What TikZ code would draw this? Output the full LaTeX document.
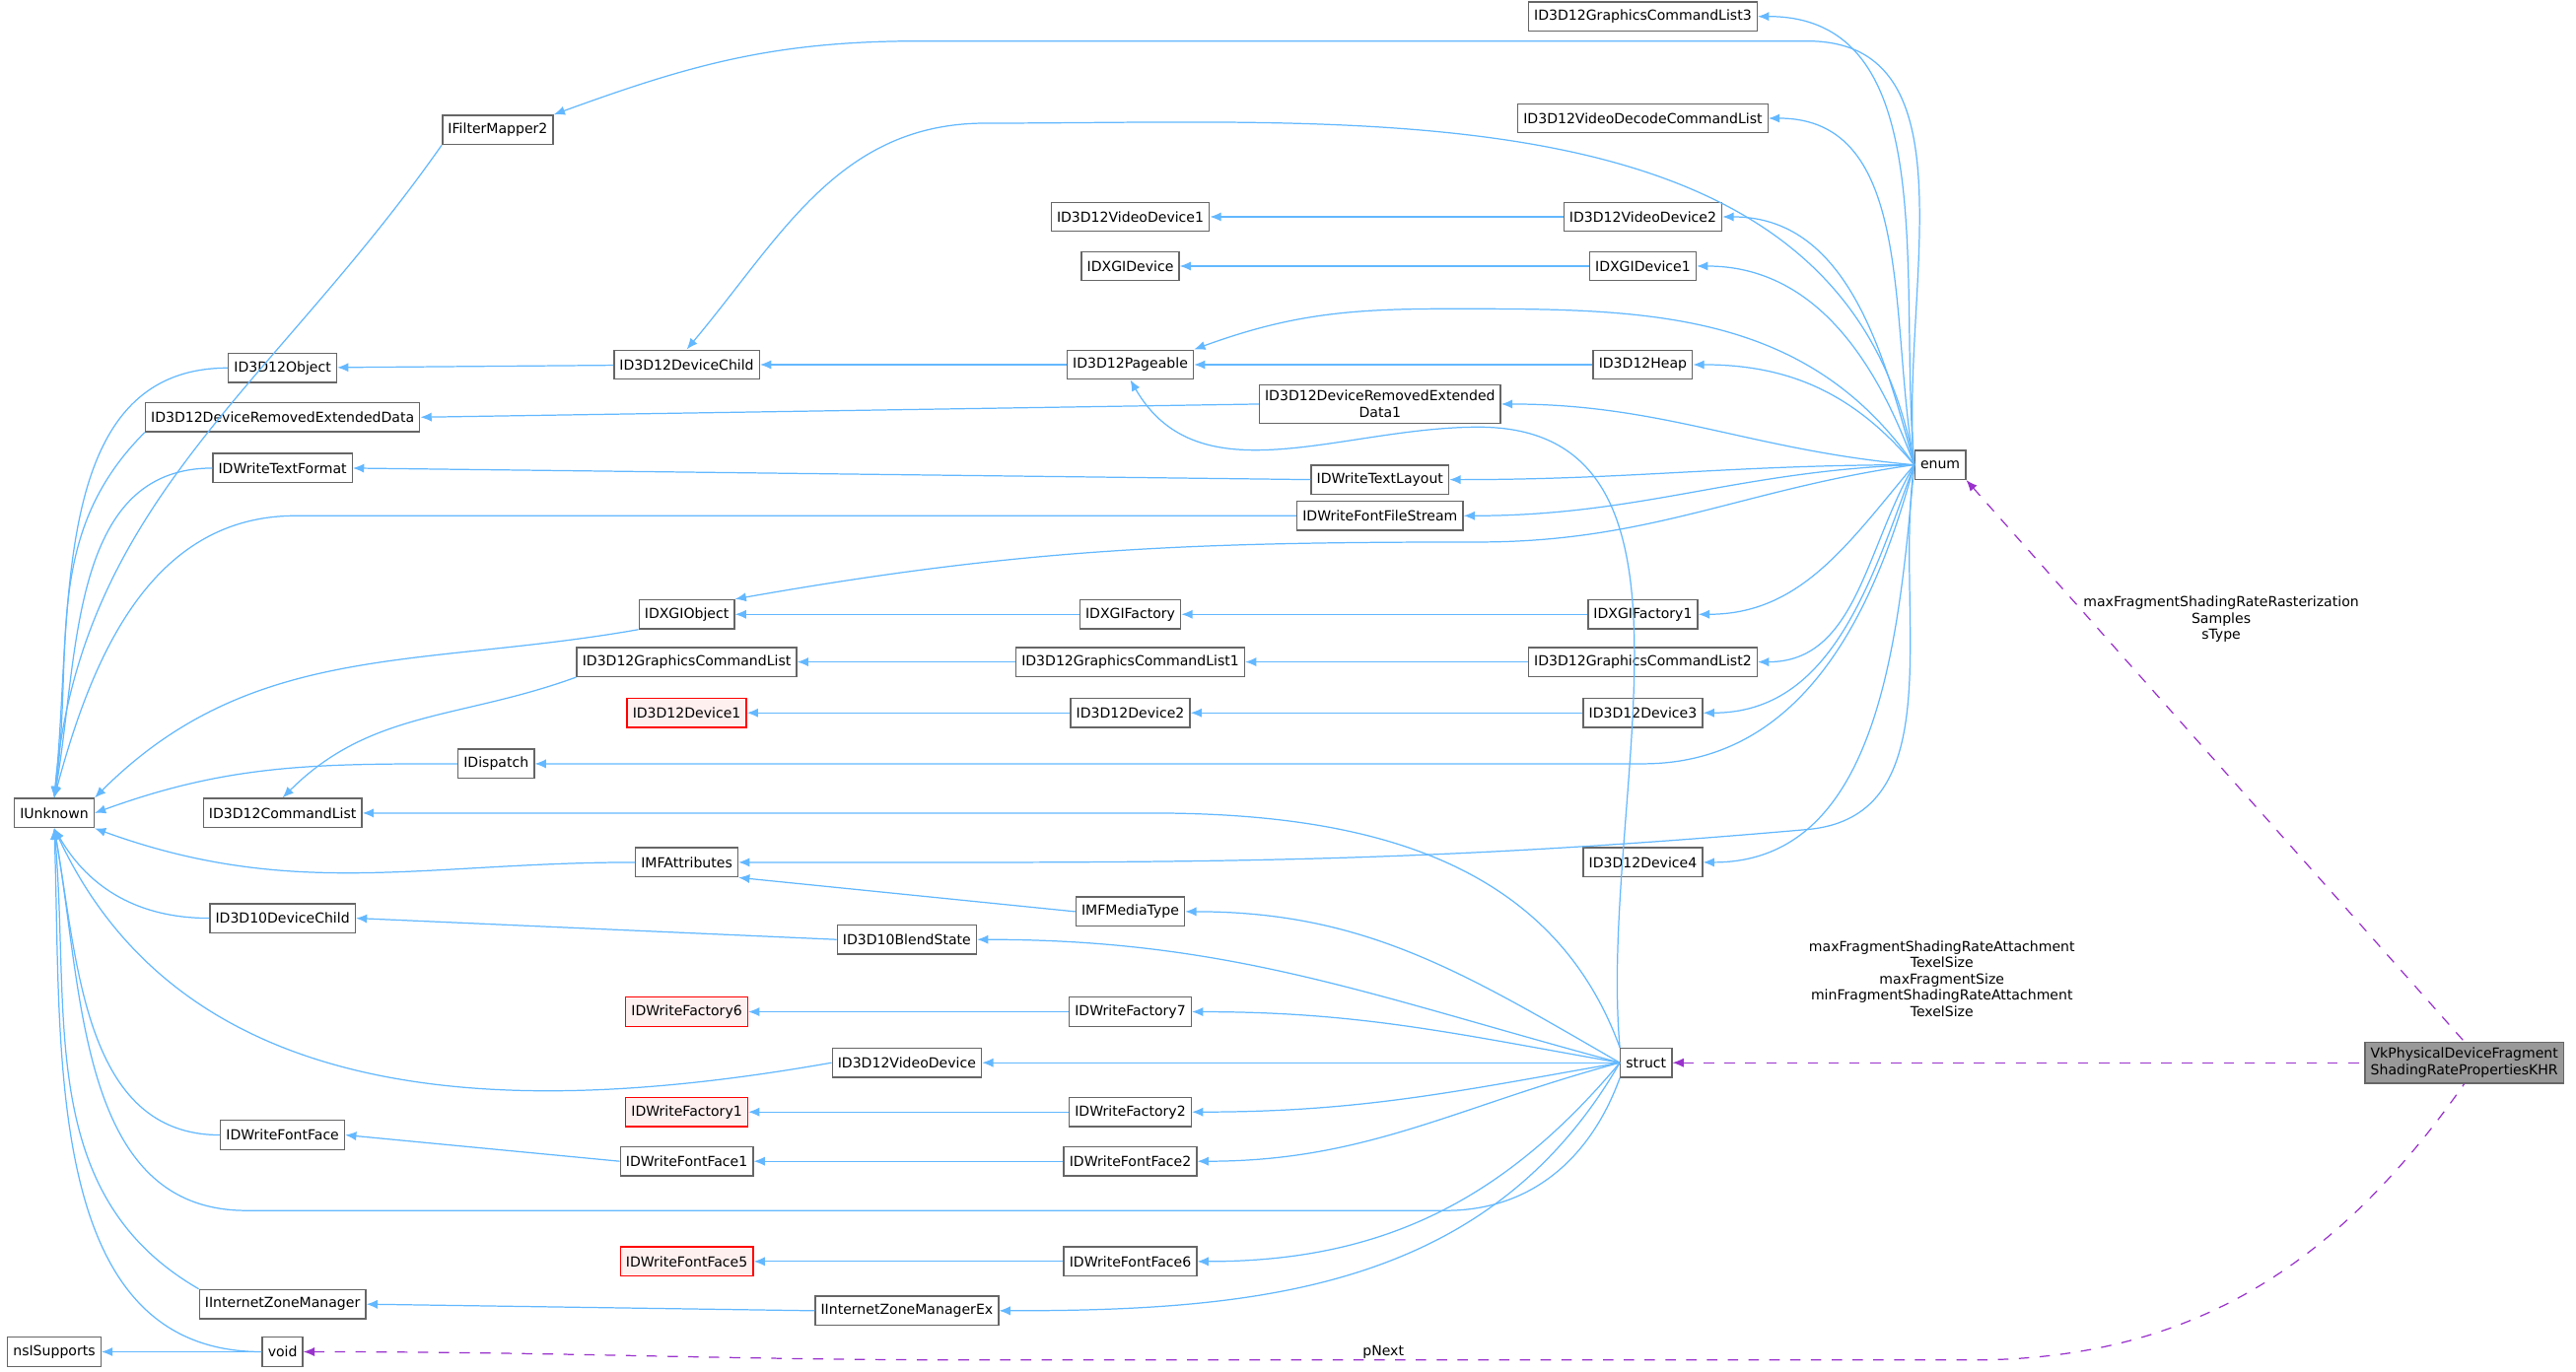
\documentclass[tikz,border=0pt]{standalone}
\usepackage{fontspec}
\setmainfont{DejaVu Sans}
\usetikzlibrary{arrows.meta}
\definecolor{edgeblue}{HTML}{63B8FF}
\definecolor{memberpurple}{HTML}{9A32CD}
\tikzset{
  cls/.style={draw=black!60,fill=white,font=\fontsize{4}{4.7}\selectfont,inner sep=1.6pt,minimum height=8.4pt,align=center},
  undoc/.style={cls,draw=red,fill=red!6},
  self/.style={cls,draw=black!60,fill=black!40},
  edge/.style={edgeblue,line width=0.35pt,{Latex[length=3.2pt,width=2.6pt]}-},
  member/.style={memberpurple,dashed,line width=0.35pt,{Latex[length=3.2pt,width=2.6pt]}-},
  lbl/.style={font=\fontsize{4}{4.7}\selectfont,align=center,text=black}
}
\begin{document}
\begin{tikzpicture}[x=0.016665cm,y=-0.016665cm]
            \useasboundingbox (0,0) rectangle (1568,835);
            % base classes
            \node[cls] (IUnknown) at (33,495) {IUnknown};
            \node[cls] (nsISupports) at (33,823) {nsISupports};
            \node[cls] (IFilterMapper2) at (303,79) {IFilterMapper2};
            \node[cls] (D12Object) at (172,224) {ID3D12Object};
            \node[cls] (D12DRED) at (172,254) {ID3D12DeviceRemovedExtendedData};
            \node[cls] (TextFormat) at (172,285) {IDWriteTextFormat};
            \node[cls] (D12CmdList) at (172,495) {ID3D12CommandList};
            \node[cls] (D10DevChild) at (172,559) {ID3D10DeviceChild};
            \node[cls] (FontFace) at (172,691) {IDWriteFontFace};
            \node[cls] (ZoneMgr) at (172,794) {IInternetZoneManager};
            \node[cls] (void) at (172,823) {void};
            \node[cls] (IDispatch) at (302,465) {IDispatch};
            % second column
            \node[cls] (D12DevChild) at (418,222) {ID3D12DeviceChild};
            \node[cls] (DXGIObject) at (418,374) {IDXGIObject};
            \node[cls] (GfxList) at (418,403) {ID3D12GraphicsCommandList};
            \node[undoc] (Dev1) at (418,434) {ID3D12Device1};
            \node[cls] (MFAttr) at (418,525) {IMFAttributes};
            \node[undoc] (Fac6) at (418,616) {IDWriteFactory6};
            \node[undoc] (Fac1) at (418,677) {IDWriteFactory1};
            \node[cls] (FontFace1) at (418,707) {IDWriteFontFace1};
            \node[undoc] (FontFace5) at (418,768) {IDWriteFontFace5};
            \node[cls] (BlendState) at (552,572) {ID3D10BlendState};
            \node[cls] (VideoDev) at (552,647) {ID3D12VideoDevice};
            \node[cls] (ZoneMgrEx) at (552,798) {IInternetZoneManagerEx};
            % third column
            \node[cls] (VideoDev1) at (688,132) {ID3D12VideoDevice1};
            \node[cls] (DXGIDevice) at (688,162) {IDXGIDevice};
            \node[cls] (Pageable) at (688,222) {ID3D12Pageable};
            \node[cls] (DXGIFactory) at (688,374) {IDXGIFactory};
            \node[cls] (GfxList1) at (688,403) {ID3D12GraphicsCommandList1};
            \node[cls] (Dev2) at (688,434) {ID3D12Device2};
            \node[cls] (MFMedia) at (688,555) {IMFMediaType};
            \node[cls] (Fac7) at (688,616) {IDWriteFactory7};
            \node[cls] (Fac2) at (688,677) {IDWriteFactory2};
            \node[cls] (FontFace2) at (688,707) {IDWriteFontFace2};
            \node[cls] (FontFace6) at (688,768) {IDWriteFontFace6};
            \node[cls] (DRED1) at (840,246) {ID3D12DeviceRemovedExtended\\Data1};
            \node[cls] (TextLayout) at (840,292) {IDWriteTextLayout};
            \node[cls] (FileStream) at (840,314) {IDWriteFontFileStream};
            % fourth column
            \node[cls] (GfxList3) at (1000,10) {ID3D12GraphicsCommandList3};
            \node[cls] (DecodeList) at (1000,72) {ID3D12VideoDecodeCommandList};
            \node[cls] (VideoDev2) at (1000,132) {ID3D12VideoDevice2};
            \node[cls] (DXGIDevice1) at (1000,162) {IDXGIDevice1};
            \node[cls] (Heap) at (1000,222) {ID3D12Heap};
            \node[cls] (DXGIFactory1) at (1000,374) {IDXGIFactory1};
            \node[cls] (GfxList2) at (1000,403) {ID3D12GraphicsCommandList2};
            \node[cls] (Dev3) at (1000,434) {ID3D12Device3};
            \node[cls] (Dev4) at (1000,525) {ID3D12Device4};
            \node[cls] (struct) at (1002,647) {struct};
            \node[cls] (enum) at (1181,283) {enum};
            \node[self] (Vk) at (1500,647) {VkPhysicalDeviceFragment\\ShadingRatePropertiesKHR};

            % enum fan
            \foreach \t/\o in {GfxList3/95,DecodeList/100,VideoDev2/105,DXGIDevice1/110,Heap/130,DRED1/175,TextLayout/180,FileStream/182,DXGIFactory1/230,GfxList2/240,Dev3/250,Dev4/265}{
                \draw[edge] (\t.east) to[out=0,in=\o] (enum.west);
            }
            \draw[edge] (IFilterMapper2.north east) to[out=20,in=180] (560,25) -- (1100,25) to[out=0,in=95] (enum.west);
            \draw[edge] (D12DevChild.north) to[out=50,in=180] (600,75) to[out=0,in=100] (enum.west);
            \draw[edge] (Pageable.north east) to[out=20,in=180] (880,188) to[out=0,in=125] (enum.west);
            \draw[edge] (DXGIObject.north east) to[out=10,in=180] (900,330) to[out=0,in=188] (enum.west);
            \draw[edge] (IDispatch.east) to[out=0,in=180] (1000,465) to[out=0,in=255] (enum.west);
            \draw[edge] (MFAttr.east) to[out=0,in=185] (1100,505) to[out=5,in=262] (enum.west);

            % struct fan
            \draw[edge] (Pageable.south) to[out=-60,in=180] (900,260) to[out=0,in=95] (struct.north west);
            \draw[edge] (D12CmdList.east) to[out=0,in=180] (700,495) to[out=0,in=110] (struct.north west);
            \foreach \t/\i in {MFMedia/150,BlendState/165,Fac7/170,VideoDev/180,Fac2/190,FontFace2/195,FontFace6/230,ZoneMgrEx/240}{
                \draw[edge] (\t.east) to[out=0,in=\i] (struct.west);
            }
            \draw[edge] (IUnknown.south) to[out=-80,in=180] (150,737) -- (880,737) to[out=0,in=250] (struct.south west);

            % inheritance chains
            \draw[edge] (VideoDev1) -- (VideoDev2);
            \draw[edge] (DXGIDevice) -- (DXGIDevice1);
            \draw[edge] (Pageable) -- (Heap);
            \draw[edge] (D12DevChild) -- (Pageable);
            \draw[edge] (D12Object) -- (D12DevChild);
            \draw[edge] (D12DRED.east) -- (DRED1.west);
            \draw[edge] (TextFormat.east) -- (TextLayout.west);
            \draw[edge] (DXGIFactory) -- (DXGIFactory1);
            \draw[edge] (DXGIObject) -- (DXGIFactory);
            \draw[edge] (GfxList1) -- (GfxList2);
            \draw[edge] (GfxList) -- (GfxList1);
            \draw[edge] (D12CmdList.north) to[out=45,in=200] (GfxList.south west);
            \draw[edge] (Dev2) -- (Dev3);
            \draw[edge] (Dev1) -- (Dev2);
            \draw[edge] (MFAttr.south east) -- (MFMedia.west);
            \draw[edge] (D10DevChild.east) -- (BlendState.west);
            \draw[edge] (Fac6) -- (Fac7);
            \draw[edge] (Fac1) -- (Fac2);
            \draw[edge] (FontFace1) -- (FontFace2);
            \draw[edge] (FontFace.east) -- (FontFace1.west);
            \draw[edge] (FontFace5) -- (FontFace6);
            \draw[edge] (ZoneMgr.east) -- (ZoneMgrEx.west);
            \draw[edge] (nsISupports) -- (void);

            % into IUnknown
            \draw[edge] (IUnknown.north) to[out=85,in=235] (IFilterMapper2.south west);
            \draw[edge] (IUnknown.north) to[out=84,in=180] (D12Object.west);
            \draw[edge] (IUnknown.north) to[out=82,in=225] (D12DRED.south west);
            \draw[edge] (IUnknown.north) to[out=80,in=180] (TextFormat.west);
            \draw[edge] (IUnknown.north) to[out=75,in=180] (180,314) -- (FileStream.west);
            \draw[edge] (IUnknown.north east) to[out=45,in=190] (DXGIObject.south west);
            \draw[edge] (IUnknown.east) to[out=20,in=180] (IDispatch.west);
            \draw[edge] (IUnknown.south east) to[out=-20,in=180] (MFAttr.west);
            \draw[edge] (IUnknown.south) to[out=-60,in=180] (D10DevChild.west);
            \draw[edge] (IUnknown.south) to[out=-65,in=190] (VideoDev.west);
            \draw[edge] (IUnknown.south) to[out=-80,in=180] (FontFace.west);
            \draw[edge] (IUnknown.south) to[out=-85,in=150] (ZoneMgr.north west);
            \draw[edge] (IUnknown.south) to[out=-88,in=180] (void.west);

            % members
            \draw[member] (enum.south east) -- (Vk.north);
            \node[lbl] (lblEnum) at (1352,377) {maxFragmentShadingRateRasterization\\Samples\\sType};
            \draw[member] (struct.east) -- (Vk.west);
            \node[lbl] (lblStruct) at (1182,596) {maxFragmentShadingRateAttachment\\TexelSize\\maxFragmentSize\\minFragmentShadingRateAttachment\\TexelSize};
            \draw[member] (void.east) to[out=0,in=180] (600,828) -- (1200,828) to[out=0,in=235] (Vk.south);
            \node[lbl] (lblVoid) at (842,823) {pNext};
\end{tikzpicture}
\end{document}
